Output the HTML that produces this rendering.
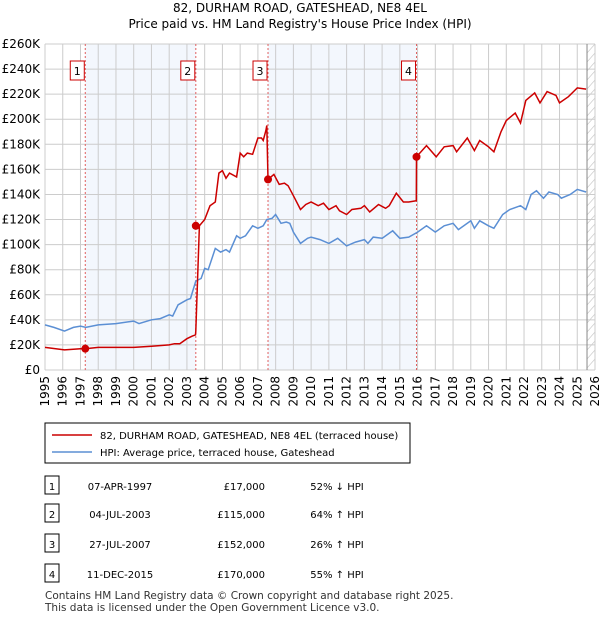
<!DOCTYPE html>
<html><head><meta charset="utf-8"><style>
body{margin:0;background:#fff;font-family:"Liberation Sans",sans-serif;}
svg text{font-family:"DejaVu Sans","Liberation Sans",sans-serif;}
</style></head><body>
<svg id="c" width="600" height="620" xmlns="http://www.w3.org/2000/svg">
<text x="300" y="12" font-size="12" text-anchor="middle">82, DURHAM ROAD, GATESHEAD, NE8 4EL</text>
<text x="300" y="28" font-size="12" text-anchor="middle">Price paid vs. HM Land Registry's House Price Index (HPI)</text>
<g id="plot"></g>
<g>
<rect x="45" y="423" width="365" height="40" fill="#fff" stroke="#000" stroke-width="1"/>
<line x1="52" y1="435" x2="92" y2="435" stroke="#cc0000" stroke-width="1.5"/>
<text x="100" y="439" font-size="10">82, DURHAM ROAD, GATESHEAD, NE8 4EL (terraced house)</text>
<line x1="52" y1="452" x2="92" y2="452" stroke="#5b8fd4" stroke-width="1.5"/>
<text x="100" y="456" font-size="10">HPI: Average price, terraced house, Gateshead</text>
</g>
<g id="tbl"></g>
<text x="45" y="599" font-size="10.5" fill="#333">Contains HM Land Registry data © Crown copyright and database right 2025.</text>
<text x="45" y="611" font-size="10.5" fill="#333">This data is licensed under the Open Government Licence v3.0.</text>
</svg>
<script>
const hpiYears=[1995,1995.5,1996.1,1996.6,1997,1997.3,1998,1999,2000,2000.3,2001,2001.5,2002,2002.2,2002.5,2003,2003.2,2003.5,2003.8,2004,2004.2,2004.6,2004.9,2005.2,2005.4,2005.8,2006,2006.3,2006.7,2007,2007.3,2007.5,2007.8,2008,2008.3,2008.6,2008.8,2009,2009.4,2009.8,2010,2010.5,2011,2011.5,2012,2012.5,2013,2013.2,2013.5,2014,2014.6,2015,2015.5,2016,2016.5,2017,2017.5,2018,2018.3,2019,2019.2,2019.5,2020,2020.3,2020.8,2021.2,2021.8,2022.1,2022.4,2022.7,2023.1,2023.4,2023.9,2024.1,2024.6,2025,2025.5];
const hpiValues=[36,34,31,34,35,34,36,37,39,37,40,41,44,43,52,56,57,71,73,81,80,97,94,96,94,107,105,107,115,113,115,120,121,124,117,118,117,110,101,105,106,104,101,105,99,102,104,101,106,105,111,105,106,110,115,110,115,117,112,119,113,119,115,113,124,128,131,128,140,143,137,142,140,137,140,144,142];
const priceYears=[1995,1996.1,1997,1997.27,1998,2000,2001,2002,2002.3,2002.6,2003,2003.3,2003.48,2003.5,2003.7,2004,2004.3,2004.6,2004.8,2005,2005.2,2005.4,2005.8,2006,2006.2,2006.4,2006.7,2007,2007.2,2007.3,2007.45,2007.5,2007.57,2007.9,2008.2,2008.5,2008.7,2009,2009.4,2009.7,2010,2010.4,2010.7,2011,2011.4,2011.6,2012,2012.3,2012.8,2013,2013.3,2013.8,2014.2,2014.4,2014.8,2015.2,2015.5,2015.93,2015.94,2016.5,2017.05,2017.5,2018,2018.2,2018.8,2019.2,2019.5,2020,2020.3,2020.7,2021,2021.5,2021.8,2022.1,2022.6,2022.9,2023.3,2023.8,2024,2024.5,2025,2025.5];
const priceValues=[18,16,17,17,18,18,19,20,21,21,25,27,28,31,115,120,131,134,157,159,153,157,154,173,170,173,172,185,185,183,191,195,152,156,148,149,147,139,128,132,134,131,133,128,131,127,124,128,129,131,126,132,129,131,141,134,134,135,170,179,170,178,179,174,185,175,183,178,174,190,199,205,197,215,221,213,222,219,213,218,225,224];
const saleYears=[1997.27,2003.5,2007.57,2015.94];
const salePrices=[17000,115000,152000,170000];
const saleLabels=["1","2","3","4"];
const saleDates=["07-APR-1997","04-JUL-2003","27-JUL-2007","11-DEC-2015"];
const salePriceText=["£17,000","£115,000","£152,000","£170,000"];
const saleHpiText=["52% ↓ HPI","64% ↑ HPI","26% ↑ HPI","55% ↑ HPI"];
const yTicks=[0,20,40,60,80,100,120,140,160,180,200,220,240,260];
const xTicks=[];for(let y=1995;y<=2026;y++)xTicks.push(y);
const NS="http://www.w3.org/2000/svg";
const X=y=>45+(y-1995)*550/31, Y=v=>370-v*326/260;
const g=document.getElementById('plot');
function mk(t,a,p){const e=document.createElementNS(NS,t);for(const k in a)e.setAttribute(k,a[k]);(p||g).appendChild(e);return e;}
for(let i=0;i<saleYears.length;i+=2){const r=mk('rect',{x:X(saleYears[i]),y:Y(260),width:X(saleYears[i+1])-X(saleYears[i]),height:Y(0)-Y(260),fill:'#eef3fc',opacity:0.7});

}
const end=2025.55;
const hr=mk('rect',{x:X(end),y:Y(260),width:X(2026)-X(end),height:Y(0)-Y(260),fill:'#fff'});


for(let yy=Y(260);yy<Y(0)-8;yy+=9){mk('line',{x1:X(end),y1:yy+9,x2:X(2026),y2:yy,stroke:'#ccc','stroke-width':0.7});}
yTicks.forEach(v=>{const l=mk('line',{x1:45,x2:595,y1:Y(v),y2:Y(v),stroke:'#ccc'});


const t=mk('text',{x:40,y:Y(v)+4,'font-size':12,'text-anchor':'end'});t.textContent=v===0?'£0':'£'+v+'K';

});
xTicks.forEach(y=>{const l=mk('line',{x1:X(y),x2:X(y),y1:Y(260),y2:Y(0),stroke:'#ccc'});


const t=mk('text',{x:0,y:0,'font-size':12,'text-anchor':'end',transform:`translate(${X(y)+4},376) rotate(-90)`});t.textContent=y;

});
mk('line',{x1:X(end),x2:X(end),y1:Y(260),y2:Y(0),stroke:'#888'});
saleYears.forEach((s,i)=>{const l=mk('line',{x1:X(s),x2:X(s),y1:Y(260),y2:Y(0),stroke:'#e06060','stroke-dasharray':'2,2'});


const b=mk('rect',{x:X(s)-15,y:61,width:14,height:19,fill:'#fff',stroke:'#cc0000'});


const t=mk('text',{x:X(s)-8,y:75,'font-size':11,'text-anchor':'middle'});t.textContent=saleLabels[i];

});
let d='';hpiYears.forEach((y,i)=>{d+=(i?'L':'M')+X(y).toFixed(1)+','+Y(hpiValues[i]).toFixed(1);});
const hp=mk('path',{d:d,fill:'none',stroke:'#5b8fd4','stroke-width':1.5});


let rd='';priceYears.forEach((y,i)=>{rd+=(i?'L':'M')+X(y).toFixed(1)+','+Y(priceValues[i]).toFixed(1);});
const rp=mk('path',{d:rd,fill:'none',stroke:'#cc0000','stroke-width':1.5});


saleYears.forEach((s,i)=>{const c=mk('circle',{cx:X(s),cy:Y(salePrices[i]/1000),r:4,fill:'#cc0000'});

});
const tb=document.getElementById('tbl');const rowsY=[486,514,544,574];
saleLabels.forEach((l,i)=>{const y=rowsY[i];
const r=mk('rect',{x:45,y:y-10,width:14,height:18,fill:'#fff',stroke:'#000'},tb);


const cells=[[52,l,'middle'],[120,saleDates[i],'middle'],[265,salePriceText[i],'end'],[337,saleHpiText[i],'middle']];
cells.forEach(c=>{const t=mk('text',{x:c[0],y:y+4,'font-size':10,'text-anchor':c[2]},tb);t.textContent=c[1];

});});
</script>
</body></html>
